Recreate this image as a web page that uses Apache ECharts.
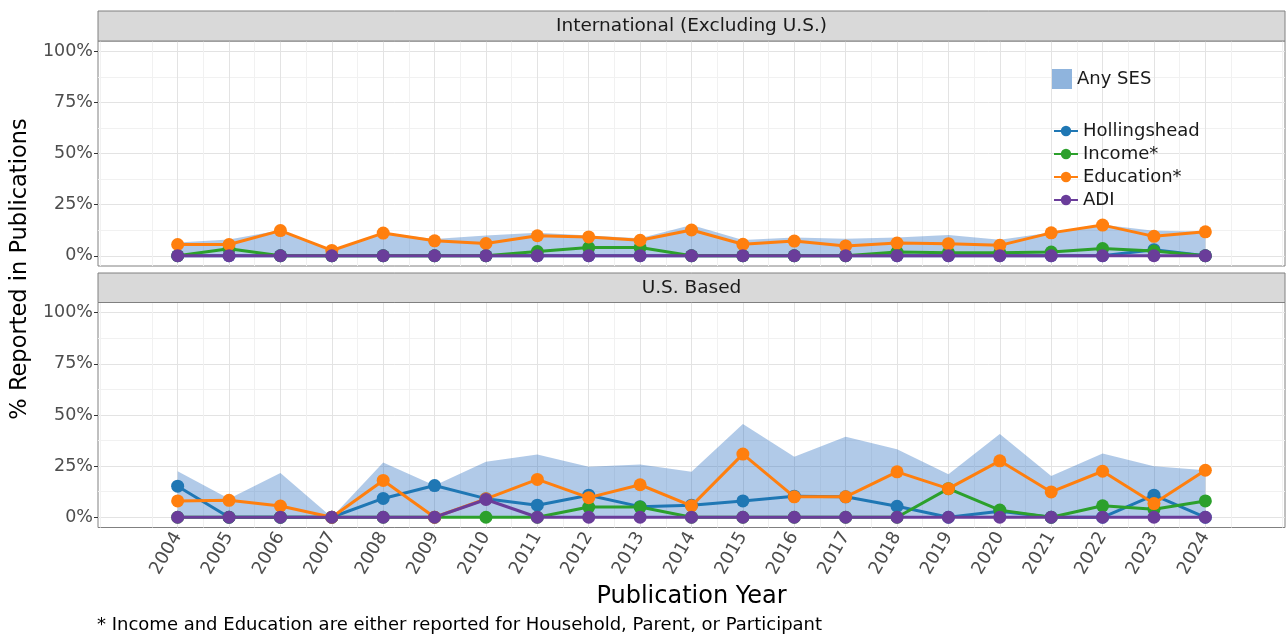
<!DOCTYPE html>
<html>
<head>
<meta charset="utf-8">
<script src="https://cdn.jsdelivr.net/npm/echarts@6/dist/echarts.min.js"></script>
<style>
  html, body { margin: 0; padding: 0; background: #ffffff; }
  #chart { width: 1287px; height: 638px; }
</style>
</head>
<body>
<div id="chart"></div>
<script>
// Publication years (x axis)
const years = [2004, 2005, 2006, 2007, 2008, 2009, 2010, 2011, 2012, 2013, 2014,
               2015, 2016, 2017, 2018, 2019, 2020, 2021, 2022, 2023, 2024];
const yTicks = [0, 25, 50, 75, 100];

const panelTitles = ['International (Excluding U.S.)', 'U.S. Based'];
const seriesNames = ['Hollingshead', 'Income*', 'Education*', 'ADI'];
const anyName = 'Any SES';

// International (Excluding U.S.) — % of publications reporting each measure
const intlAnySES      = [6.5, 8.0, 12.5, 2.8, 11.3, 8.2, 9.9, 11.2, 9.9, 8.6, 15.0, 7.7, 8.9, 8.3, 8.9, 10.2, 7.8, 11.4, 15.2, 12.2, 11.9];
const intlHollingshead = [0, 0, 0, 0, 0, 0, 0, 0, 0, 0, 0, 0, 0, 0, 0, 0, 0, 0, 0, 3.0, 0];
const intlIncome      = [0, 3.4, 0, 0, 0, 0, 0, 2.1, 4.0, 4.0, 0, 0, 0, 0, 1.8, 1.5, 1.5, 1.8, 3.5, 2.3, 0];
const intlEducation   = [5.5, 5.5, 12.3, 2.6, 11.1, 7.3, 6.0, 9.8, 9.2, 7.6, 12.6, 5.6, 7.2, 4.8, 6.2, 5.9, 5.1, 11.2, 15.0, 9.5, 11.7];
const intlADI         = [0, 0, 0, 0, 0, 0, 0, 0, 0, 0, 0, 0, 0, 0, 0, 0, 0, 0, 0, 0, 0];

// U.S. Based — % of publications reporting each measure
const usAnySES        = [22.5, 9.0, 21.7, 0, 26.8, 15.5, 27.1, 30.7, 24.7, 25.8, 22.2, 45.6, 29.6, 39.4, 33.2, 21.0, 40.7, 20.2, 31.2, 25.0, 23.0];
const usHollingshead  = [15.2, 0, 0, 0, 9.2, 15.5, 9.1, 5.9, 10.8, 5.2, 5.9, 8.0, 10.3, 10.0, 5.4, 0, 3.0, 0, 0, 10.8, 0];
const usIncome        = [0, 0, 0, 0, 0, 0, 0, 0, 5.0, 5.0, 0, 0, 0, 0, 0, 14.0, 3.5, 0, 5.6, 3.9, 8.0];
const usEducation     = [8.0, 8.3, 5.5, 0, 18.0, 0, 9.0, 18.5, 9.6, 15.9, 5.6, 30.9, 10.0, 10.0, 22.2, 14.0, 27.6, 12.4, 22.5, 6.7, 23.0];
const usADI           = [0, 0, 0, 0, 0, 0, 8.7, 0, 0, 0, 0, 0, 0, 0, 0, 0, 0, 0, 0, 0, 0];

const footnote = '* Income and Education are either reported for Household, Parent, or Participant';
const xTitle = 'Publication Year';
const yTitle = '% Reported in Publications';

// ---- styling ----
const FONT = 'DejaVu Sans';
const colors = { 'Hollingshead': '#1f77b4', 'Income*': '#2ca02c', 'Education*': '#ff7f0e', 'ADI': '#6a3d9a' };
const areaFill = 'rgba(35,105,190,0.5)';
const areaSolid = '#8fb4dd';
const majorGrid = '#e3e3e3';
const minorGrid = '#f1f1f1';
const borderCol = '#808080';

const X_MIN = 2002.45, X_MAX = 2025.55;
const Y_MIN = -5, Y_MAX = 105;

// minor grid positions halfway between the major breaks
const xMinor = [];
for (let v = 2002.5; v <= 2025.5; v += 1) xMinor.push(v);
const yMinor = [];
for (let i = 0; i < yTicks.length - 1; i++) yMinor.push((yTicks[i] + yTicks[i + 1]) / 2);

const panels = [
  { any: intlAnySES, lines: [intlHollingshead, intlIncome, intlEducation, intlADI] },
  { any: usAnySES,   lines: [usHollingshead, usIncome, usEducation, usADI] }
];

const PANEL_LEFT = 98, PANEL_W = 1187, PANEL_H = 225;
const panelTops = [41, 302.5];
const stripH = [30, 29.5];

const grid = panelTops.map(t => ({
  left: PANEL_LEFT, top: t, width: PANEL_W, height: PANEL_H,
  show: true, backgroundColor: '#ffffff', borderColor: borderCol, borderWidth: 1,
  containLabel: false
}));

const xAxis = [];
const yAxis = [];
panelTops.forEach((t, gi) => {
  const isBottom = gi === panelTops.length - 1;
  // major x breaks (years)
  xAxis.push({
    gridIndex: gi, type: 'value', min: X_MIN, max: X_MAX,
    axisLine: { show: false },
    axisTick: { show: isBottom, customValues: years, length: 4, lineStyle: { color: '#333333', width: 1 } },
    axisLabel: {
      show: isBottom, customValues: years, rotate: 60, margin: 6,
      fontSize: 18, fontFamily: FONT, color: '#4d4d4d', formatter: v => String(v)
    },
    splitLine: { show: true, lineStyle: { color: majorGrid, width: 1 } },
    name: isBottom ? xTitle : '',
    nameLocation: 'middle', nameGap: 57,
    nameTextStyle: { fontSize: 24, fontFamily: FONT, color: '#000000' }
  });
  // minor x breaks
  xAxis.push({
    gridIndex: gi, type: 'value', min: X_MIN, max: X_MAX,
    axisLine: { show: false },
    axisTick: { show: false, customValues: xMinor },
    axisLabel: { show: false, customValues: xMinor },
    splitLine: { show: true, lineStyle: { color: minorGrid, width: 1 } }
  });
  // major y breaks
  yAxis.push({
    gridIndex: gi, type: 'value', min: Y_MIN, max: Y_MAX,
    axisLine: { show: false },
    axisTick: { show: true, customValues: yTicks, length: 4, lineStyle: { color: '#333333', width: 1 } },
    axisLabel: {
      customValues: yTicks, margin: 5, fontSize: 17.5, fontFamily: FONT, color: '#4d4d4d',
      formatter: v => v + '%'
    },
    splitLine: { show: true, lineStyle: { color: majorGrid, width: 1 } }
  });
  // minor y breaks
  yAxis.push({
    gridIndex: gi, type: 'value', min: Y_MIN, max: Y_MAX, position: 'left',
    axisLine: { show: false },
    axisTick: { show: false, customValues: yMinor },
    axisLabel: { show: false, customValues: yMinor },
    splitLine: { show: true, lineStyle: { color: minorGrid, width: 1 } }
  });
});

const pairs = arr => years.map((y, i) => [y, arr[i]]);

const series = [];
panels.forEach((p, gi) => {
  series.push({
    name: anyName, type: 'line', xAxisIndex: gi * 2, yAxisIndex: gi * 2,
    data: pairs(p.any), symbol: 'none', color: areaSolid,
    lineStyle: { width: 0, color: areaSolid },
    areaStyle: { color: areaFill, origin: 'auto' },
    z: 2, silent: true
  });
  p.lines.forEach((vals, si) => {
    const nm = seriesNames[si];
    series.push({
      name: nm, type: 'line', xAxisIndex: gi * 2, yAxisIndex: gi * 2,
      data: pairs(vals), symbol: 'circle', symbolSize: 13, color: colors[nm],
      lineStyle: { width: 3, color: colors[nm] },
      itemStyle: { color: colors[nm] },
      z: 3 + si, silent: true
    });
  });
});

const graphic = [];
panelTops.forEach((t, gi) => {
  const sh = stripH[gi];
  const sy = t - sh;
  graphic.push({
    type: 'rect', shape: { x: PANEL_LEFT, y: sy, width: PANEL_W, height: sh },
    style: { fill: '#d9d9d9', stroke: borderCol, lineWidth: 1 }, z: 10
  });
  graphic.push({
    type: 'text', x: PANEL_LEFT + PANEL_W / 2, y: sy + sh / 2,
    style: { text: panelTitles[gi], align: 'center', verticalAlign: 'middle',
             fontSize: 18.5, fontFamily: FONT, fill: '#1a1a1a' }, z: 11
  });
});
graphic.push({
  type: 'text', x: 20, y: 269, rotation: Math.PI / 2,
  style: { text: yTitle, align: 'center', verticalAlign: 'middle',
           fontSize: 22.5, fontFamily: FONT, fill: '#000000' }, z: 11
});
graphic.push({
  type: 'text', x: 97, y: 625,
  style: { text: footnote, align: 'left', verticalAlign: 'middle',
           fontSize: 18, fontFamily: FONT, fill: '#000000' }, z: 11
});

const option = {
  animation: false,
  backgroundColor: '#ffffff',
  textStyle: { fontFamily: FONT },
  grid, xAxis, yAxis, series, graphic,
  legend: [
    {
      data: [{ name: anyName, icon: 'rect', itemStyle: { color: areaSolid } }],
      left: 1047, top: 64, itemWidth: 20, itemHeight: 20,
      textStyle: { fontSize: 18, fontFamily: FONT, color: '#1a1a1a' },
      selectedMode: false
    },
    {
      data: seriesNames, orient: 'vertical', left: 1048, top: 117,
      itemWidth: 24, itemHeight: 13, itemGap: 5,
      textStyle: { fontSize: 18, fontFamily: FONT, color: '#1a1a1a', lineHeight: 18 },
      selectedMode: false
    }
  ]
};

const chart = echarts.init(document.getElementById('chart'), null, { renderer: 'canvas' });
chart.setOption(option);
</script>
</body>
</html>
